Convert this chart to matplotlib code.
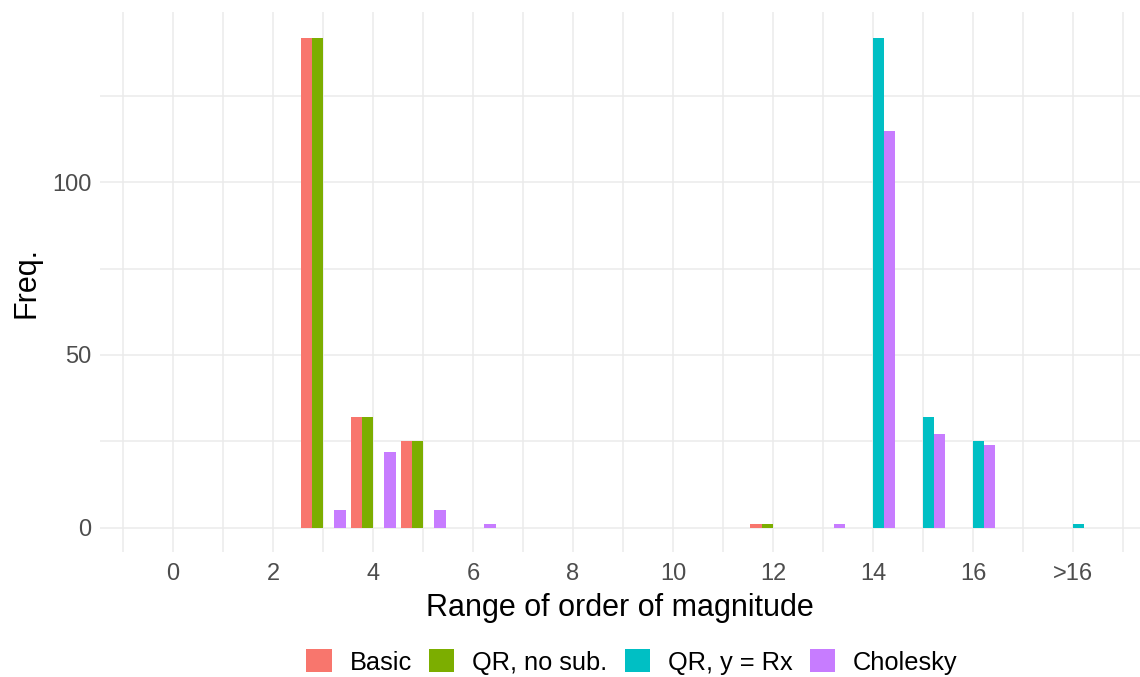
import matplotlib
matplotlib.use("Agg")
import matplotlib.pyplot as plt
import numpy as np
from matplotlib.patches import Patch

plt.rcParams['font.family'] = ['Liberation Sans', 'DejaVu Sans']

bins = [3, 4, 5, 6, 12, 13, 14, 15, 16, 18]
series = ["Basic", "QR, no sub.", "QR, y = Rx", "Cholesky"]
basic    = [142, 32, 25, 0, 1, 0, 0, 0, 0, 0]
qr_nosub = [142, 32, 25, 0, 1, 0, 0, 0, 0, 0]
qr_rx    = [0, 0, 0, 0, 0, 0, 142, 32, 25, 1]
cholesky = [5, 22, 5, 1, 0, 1, 115, 27, 24, 0]
tick_pos = [0, 2, 4, 6, 8, 10, 12, 14, 16, 18]
tick_labels = ["0", "2", "4", "6", "8", "10", "12", "14", "16", ">16"]
colors = ["#F8766D", "#7CAE00", "#00BFC4", "#C77CFF"]

fig = plt.figure(figsize=(11.4, 6.77), dpi=100)
ax = fig.add_axes([100/1140, 1-552/677, 1040/1140, 540/677])

w = 0.225
offs = [-1.5*w, -0.5*w, 0.5*w, 1.5*w]
x = np.array(bins, dtype=float)
for vals, c, o in zip([basic, qr_nosub, qr_rx, cholesky], colors, offs):
    v = np.array(vals)
    m = v > 0
    ax.bar(x[m] + o, v[m], width=w, color=c, zorder=3, linewidth=0)

ax.set_xlim(-1.46, 19.34)
ax.set_ylim(-7.1, 149.4)
ax.set_xticks(tick_pos)
ax.set_xticklabels(tick_labels)
ax.set_xticks(np.arange(-1, 20, 2), minor=True)
ax.set_yticks([0, 50, 100])
ax.set_yticks([25, 75, 125], minor=True)
ax.grid(True, which='both', color='#EBEBEB', linewidth=1.1, zorder=0)
for s in ax.spines.values():
    s.set_visible(False)
ax.tick_params(which='both', length=0)
ax.tick_params(axis='both', labelsize=17, labelcolor='#4D4D4D')
ax.tick_params(axis='x', pad=8)
ax.tick_params(axis='y', pad=6)
ax.set_xlabel("Range of order of magnitude", fontsize=22, labelpad=6)
ax.set_ylabel("Freq.", fontsize=22, labelpad=8)

handles = [Patch(facecolor=c, label=s) for c, s in zip(colors, series)]
fig.legend(handles=handles, loc='center', bbox_to_anchor=(632/1140, 1-662/677), ncol=4,
           frameon=False, fontsize=18.3, handlelength=1.0, handleheight=1.0,
           handletextpad=0.7, columnspacing=0.68)

fig.savefig("out.png", dpi=100)
